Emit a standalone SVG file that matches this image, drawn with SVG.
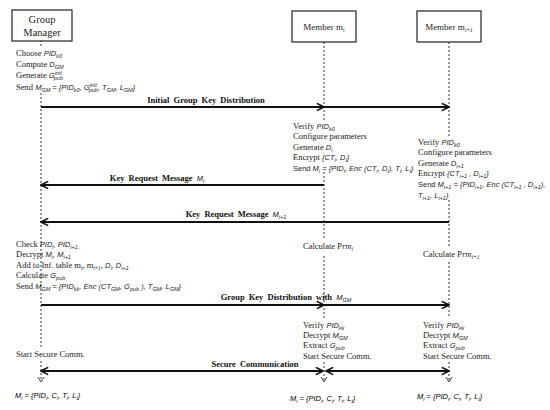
<svg xmlns="http://www.w3.org/2000/svg" width="550" height="410" viewBox="0 0 550 410">
<defs>
<style>
.t{font-family:"Liberation Serif",serif;font-size:8.5px;fill:#222}
.m{font-family:"Liberation Sans",sans-serif;font-style:italic;font-size:7.5px}
.n{font-family:"Liberation Sans",sans-serif;font-style:normal;font-size:7.5px}
.s{font-size:5.5px;baseline-shift:-1.5px}
.u{font-size:5.5px;baseline-shift:3px}
.b{font-family:"Liberation Serif",serif;font-size:8.5px;font-weight:bold;fill:#111;word-spacing:2px}
.box{fill:#fff;stroke:#222;stroke-width:1.2}
.h{font-family:"Liberation Serif",serif;fill:#222;text-anchor:middle}
.life{stroke:#333;stroke-width:1;stroke-dasharray:2,2;fill:none}
.arr{stroke:#111;stroke-width:1.8;fill:none}
.v{stroke:#333;stroke-width:0.9;fill:none}
</style>
<marker id="ah" viewBox="0 0 10 10" refX="9" refY="5" markerWidth="9" markerHeight="9" markerUnits="userSpaceOnUse" orient="auto-start-reverse">
<path d="M1,1 L9,5 L1,9" fill="none" stroke="#111" stroke-width="1.8"/>
</marker>
</defs>

<g id="lifelines">
<path class="life" d="M41,40 V46 M41,93 V347 M41,361 V381"/>
<path class="life" d="M324,42 V122 M324,172 V238 M324,256 V318 M324,362 V381"/>
<path class="life" d="M449,42 V138 M449,200 V247 M449,262 V318 M449,362 V381"/>
<path class="v" d="M38,377 L41,382 L44,377 M321,377 L324,382 L327,377 M446,377 L449,382 L452,377"/>
</g>

<g id="gm">
<rect class="box" x="12" y="10" width="60" height="31"/>
<text class="h" x="42" y="23" font-family="Liberation Serif, serif" font-size="10.5">Group</text>
<text class="h" x="42" y="36" font-family="Liberation Serif, serif" font-size="10.5">Manager</text>
</g>
<g id="mi">
<rect class="box" x="292" y="11" width="64" height="31"/>
<text class="h" x="324" y="30" font-size="9">Member m<tspan class="s" font-style="italic">i</tspan></text>
</g>
<g id="mi1">
<rect class="box" x="417" y="11" width="64" height="31"/>
<text class="h" x="449" y="30" font-size="9">Member m<tspan class="s" font-style="italic">i+1</tspan></text>
</g>

<g id="gm-text1">
<text class="t" x="16" y="56">Choose <tspan class="m">PID<tspan class="s">k0</tspan></tspan></text>
<text class="t" x="16" y="67">Compute  <tspan class="m">D<tspan class="s">GM</tspan></tspan></text>
<text class="t" x="16" y="78">Generate  <tspan class="m">G<tspan class="u">init</tspan><tspan class="s" dx="-8">pub</tspan></tspan></text>
<text class="t" x="16" y="90">Send <tspan class="m">M<tspan class="s">GM</tspan> = {PID<tspan class="s">k0</tspan>, G<tspan class="u">init</tspan><tspan class="s" dx="-8">pub</tspan>, T<tspan class="s">GM</tspan>, L<tspan class="s">GM</tspan>}</tspan></text>
</g>

<g id="mi-text1">
<text class="t" x="293" y="129">Verify  <tspan class="m">PID<tspan class="s">k0</tspan></tspan></text>
<text class="t" x="293" y="139">Configure parameters</text>
<text class="t" x="293" y="150">Generate  <tspan class="m">D<tspan class="s">i</tspan></tspan></text>
<text class="t" x="293" y="160">Encrypt  <tspan class="m">{CT<tspan class="s">i</tspan>, D<tspan class="s">i</tspan>}</tspan></text>
<text class="t" x="293" y="171"><tspan class="n">Send </tspan><tspan class="m">M<tspan class="s">i</tspan> = {PID<tspan class="s">i</tspan>, Enc (CT<tspan class="s">i</tspan>, D<tspan class="s">i</tspan>), T<tspan class="s">i</tspan>, L<tspan class="s">i</tspan>}</tspan></text>
</g>

<g id="mi1-text1">
<text class="t" x="418" y="145">Verify  <tspan class="m">PID<tspan class="s">k0</tspan></tspan></text>
<text class="t" x="418" y="155">Configure parameters</text>
<text class="t" x="418" y="166">Generate  <tspan class="m">D<tspan class="s">i+1</tspan></tspan></text>
<text class="t" x="418" y="176">Encrypt  <tspan class="m">{CT<tspan class="s">i+1</tspan> , D<tspan class="s">i+1</tspan>}</tspan></text>
<text class="t" x="418" y="187"><tspan class="n">Send </tspan><tspan class="m">M<tspan class="s">i+1</tspan> = {PID<tspan class="s">i+1</tspan>, Enc (CT<tspan class="s">i+1</tspan> , D<tspan class="s">i+1</tspan>),</tspan></text>
<text class="t" x="418" y="198"><tspan class="m">T<tspan class="s">i+1</tspan>, L<tspan class="s">i+1</tspan>}</tspan></text>
</g>

<g id="gm-text2">
<text class="t" x="16" y="247">Check <tspan class="m">PID<tspan class="s">i</tspan>, PID<tspan class="s">i+1..</tspan></tspan></text>
<text class="t" x="16" y="257">Decrypt <tspan class="m">M<tspan class="s">i</tspan>, M<tspan class="s">i+1</tspan></tspan></text>
<text class="t" x="16" y="268">Add to Inf. table m<tspan class="s">i</tspan>, m<tspan class="s">i+1</tspan>, <tspan class="m">D<tspan class="s">i</tspan>, D<tspan class="s">i+1</tspan></tspan></text>
<text class="t" x="16" y="278">Calculate  <tspan class="m">G<tspan class="s">pub</tspan></tspan></text>
<text class="t" x="16" y="289">Send <tspan class="m">M<tspan class="s">GM</tspan> = {PID<tspan class="s">kk</tspan>, Enc (CT<tspan class="s">GM</tspan>, G<tspan class="s">pub</tspan> ), T<tspan class="s">GM</tspan>, L<tspan class="s">GM</tspan>}</tspan></text>
</g>

<g id="calc">
<text class="t" x="303" y="249">Calculate P<tspan font-style="italic">rm</tspan><tspan class="s" font-style="italic">i</tspan></text>
<text class="t" x="423" y="257">Calculate P<tspan font-style="italic">rm</tspan><tspan class="s" font-style="italic">i+1</tspan></text>
</g>

<g id="verify-mi">
<text class="t" x="303" y="328">Verify  <tspan class="m">PID<tspan class="s">kk</tspan></tspan></text>
<text class="t" x="303" y="338">Decrypt <tspan class="m">M<tspan class="s">GM</tspan></tspan></text>
<text class="t" x="303" y="348">Extract  <tspan class="m">G<tspan class="s">pub</tspan></tspan></text>
<text class="t" x="303" y="359">Start Secure Comm.</text>
</g>
<g id="verify-mi1">
<text class="t" x="423" y="328">Verify  <tspan class="m">PID<tspan class="s">kk</tspan></tspan></text>
<text class="t" x="423" y="338">Decrypt <tspan class="m">M<tspan class="s">GM</tspan></tspan></text>
<text class="t" x="423" y="348">Extract  <tspan class="m">G<tspan class="s">pub</tspan></tspan></text>
<text class="t" x="423" y="359">Start Secure Comm.</text>
</g>
<g id="gm-start">
<text class="t" x="16" y="357">Start Secure Comm.</text>
</g>

<g id="bottom">
<text class="m" x="15" y="398">M<tspan class="s">i</tspan> = {PID<tspan class="s">i</tspan>, C<tspan class="s">i</tspan>, T<tspan class="s">i</tspan>, L<tspan class="s">i</tspan>}</text>
<text class="m" x="290" y="401">M<tspan class="s">i</tspan> = {PID<tspan class="s">i</tspan>, C<tspan class="s">i</tspan>, T<tspan class="s">i</tspan>, L<tspan class="s">i</tspan>}</text>
<text class="m" x="417" y="399">M<tspan class="s">i</tspan> = {PID<tspan class="s">i</tspan>, C<tspan class="s">i</tspan>, T<tspan class="s">i</tspan>, L<tspan class="s">i</tspan>}</text>
</g>

<g id="connectors">
<line class="arr" x1="41" y1="107" x2="324" y2="107" marker-end="url(#ah)"/>
<line class="arr" x1="324" y1="107" x2="449" y2="107" marker-end="url(#ah)"/>
<text class="b" x="206" y="103" text-anchor="middle">Initial Group Key Distribution</text>

<line class="arr" x1="324" y1="185" x2="41" y2="185" marker-end="url(#ah)"/>
<text class="b" x="157" y="181" text-anchor="middle">Key Request Message <tspan class="m" font-weight="normal">M<tspan class="s">i</tspan></tspan></text>

<line class="arr" x1="449" y1="222" x2="41" y2="222" marker-end="url(#ah)"/>
<text class="b" x="236" y="217" text-anchor="middle">Key Request Message <tspan class="m" font-weight="normal">M<tspan class="s">i+1</tspan></tspan></text>

<line class="arr" x1="41" y1="305" x2="324" y2="305" marker-end="url(#ah)"/>
<line class="arr" x1="324" y1="305" x2="449" y2="305" marker-end="url(#ah)"/>
<text class="b" x="286" y="300" text-anchor="middle">Group Key Distribution with <tspan class="m" font-weight="normal">M<tspan class="s">GM</tspan></tspan></text>

<line class="arr" x1="41" y1="371" x2="323" y2="371" marker-start="url(#ah)" marker-end="url(#ah)"/>
<line class="arr" x1="326" y1="371" x2="449" y2="371" marker-start="url(#ah)" marker-end="url(#ah)"/>
<text class="b" x="255" y="367" text-anchor="middle">Secure Communication</text>
</g>
</svg>
